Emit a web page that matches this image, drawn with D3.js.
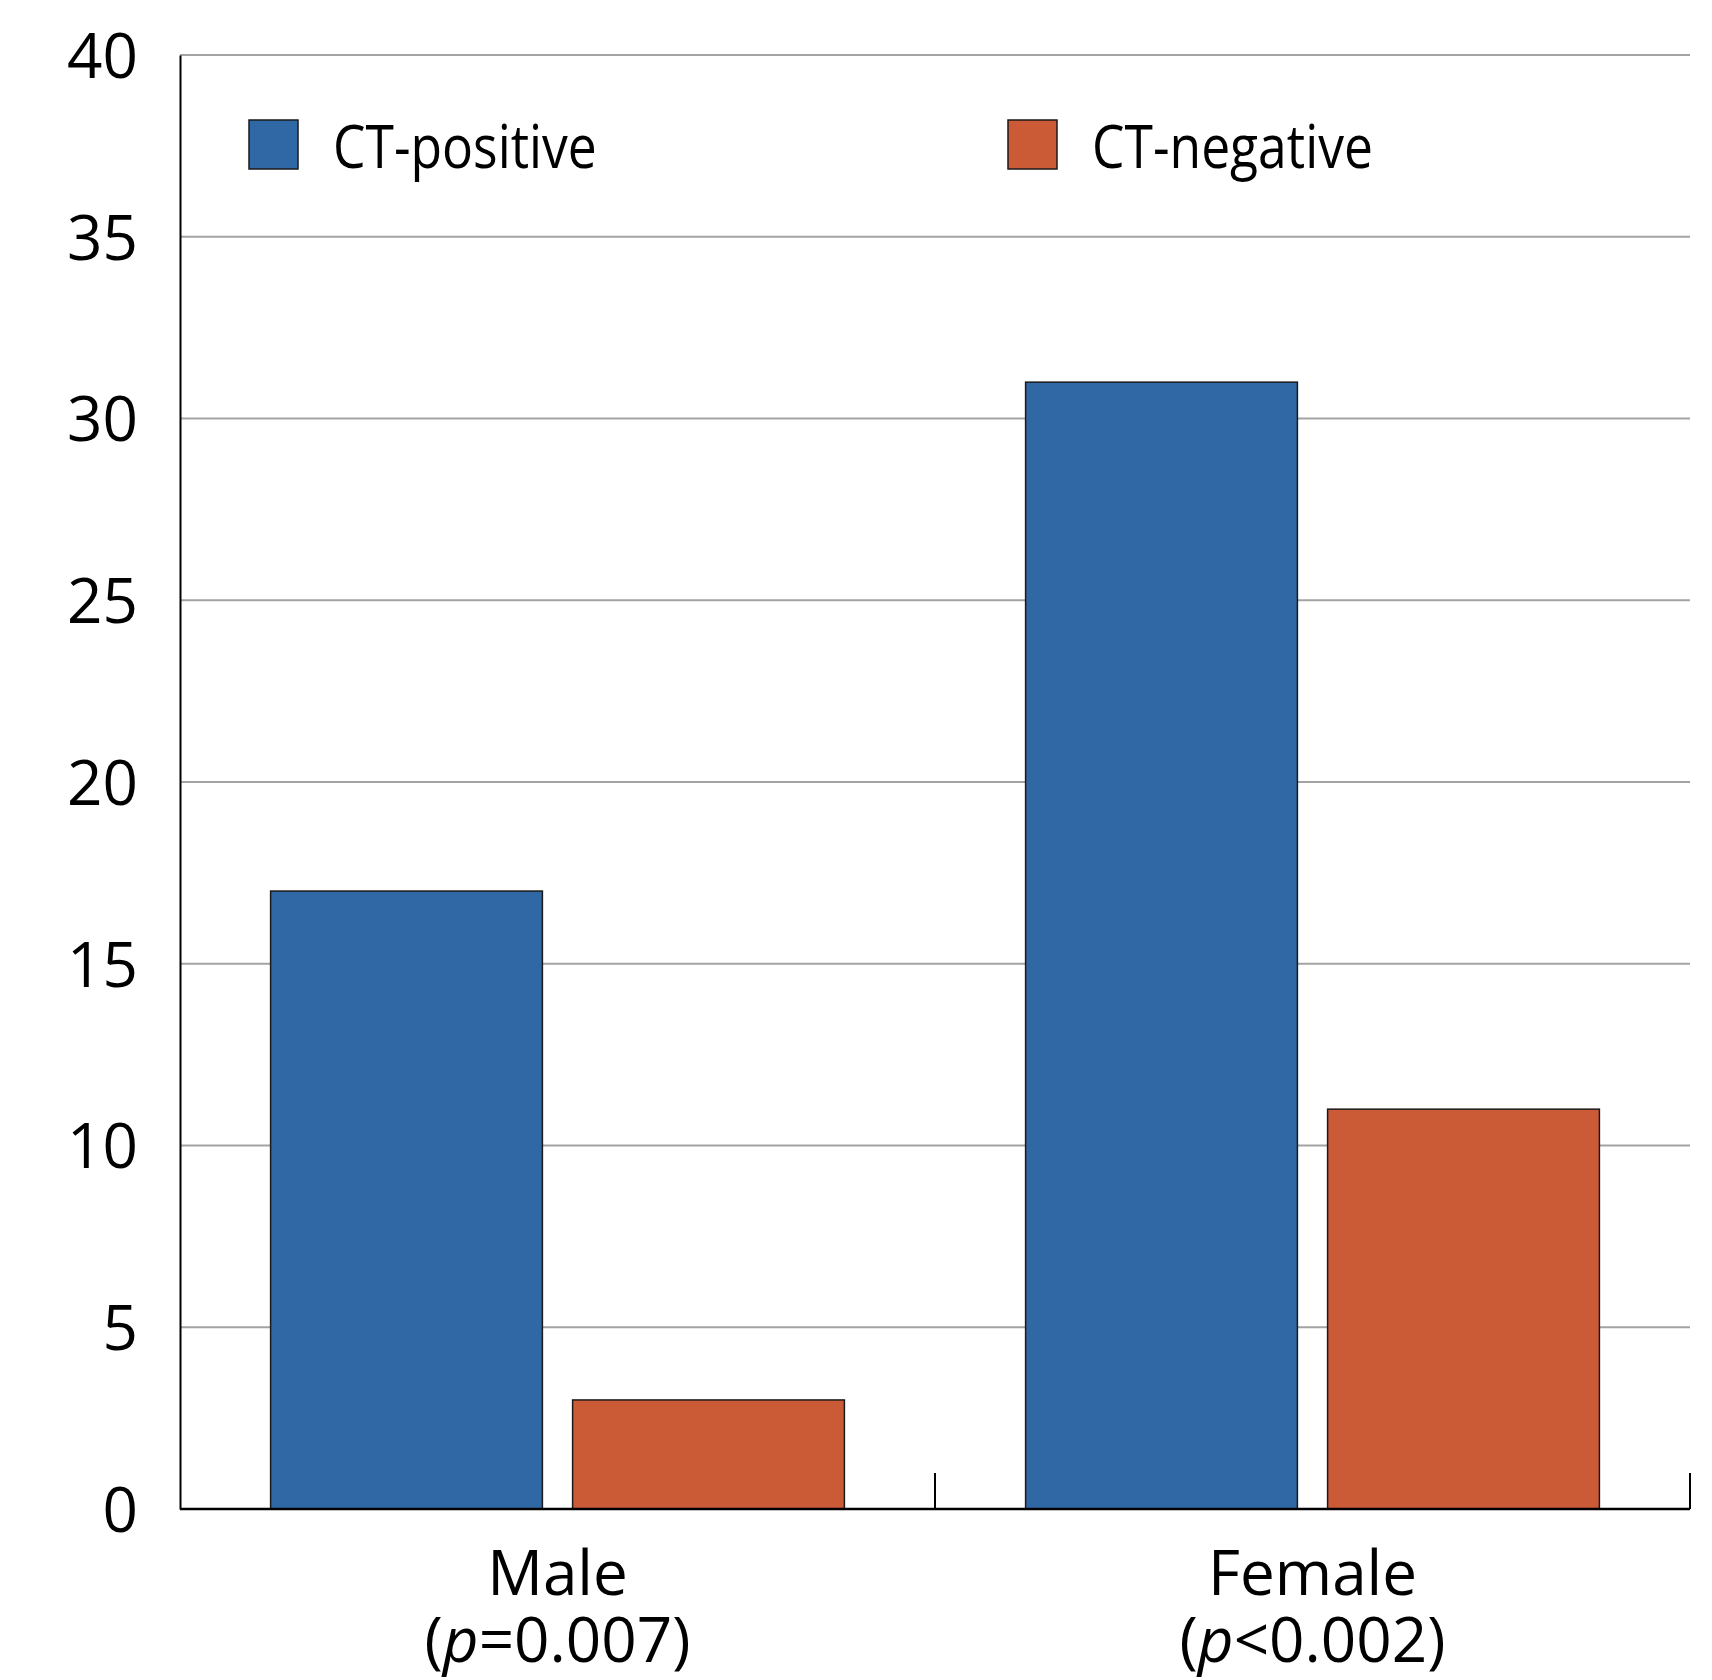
<!DOCTYPE html>
<html>
<head>
<meta charset="utf-8">
<script src="https://cdn.jsdelivr.net/npm/d3@7"></script>
<style>
  html, body { margin: 0; padding: 0; background: #fff; }
  svg text { font-family: "Open Sans", "Noto Sans", sans-serif; fill: #000; }
</style>
</head>
<body>
<svg id="chart" width="1712" height="1680"></svg>
<script>
// Chart data
const groups = ["Male", "Female"];
const groupNotes = [["=", "0.007"], ["<", "0.002"]];
const seriesNames = ["CT-positive", "CT-negative"];
const ctPositive = [17, 31];
const ctNegative = [3, 11];
const yTicks = [0, 5, 10, 15, 20, 25, 30, 35, 40];
const seriesColors = ["#3068a5", "#cb5a37"];

const margin = { left: 180, right: 22, top: 55, bottom: 171 };
const W = 1712, H = 1680;
const svg = d3.select("#chart");

const x0 = d3.scaleBand().domain(groups)
  .range([margin.left, W - margin.right]).paddingInner(0).paddingOuter(0);
const x1 = d3.scaleBand().domain(seriesNames)
  .range([0, x0.bandwidth()]).paddingInner(0.1).paddingOuter(0.3);
const y = d3.scaleLinear().domain([0, 40]).range([H - margin.bottom, margin.top]);

// Horizontal gridlines
svg.append("g")
  .selectAll("line").data(yTicks.filter(d => d > 0)).join("line")
  .attr("x1", margin.left).attr("x2", W - margin.right)
  .attr("y1", d => y(d)).attr("y2", d => y(d))
  .attr("stroke", "#a3a3a3").attr("stroke-width", 2);

// Y axis with tick labels
const yAxis = svg.append("g")
  .attr("transform", `translate(${margin.left},0)`)
  .call(d3.axisLeft(y).tickValues(yTicks).tickSize(0).tickPadding(42));
yAxis.select(".domain").attr("stroke", "#000").attr("stroke-width", 2);
yAxis.selectAll("text").attr("font-size", 62).attr("dy", "0.36em");

// Bars
const rows = groups.map((g, i) => ({ g, vals: [ctPositive[i], ctNegative[i]] }));
const gBars = svg.append("g").selectAll("g").data(rows).join("g")
  .attr("transform", d => `translate(${x0(d.g)},0)`);
gBars.selectAll("rect")
  .data(d => d.vals.map((v, j) => ({ s: seriesNames[j], v, j })))
  .join("rect")
  .attr("x", d => x1(d.s))
  .attr("width", x1.bandwidth())
  .attr("y", d => y(d.v))
  .attr("height", d => y(0) - y(d.v))
  .attr("fill", d => seriesColors[d.j])
  .attr("stroke", "#1a1a1a").attr("stroke-width", 1.5);

// X axis baseline and group separator ticks
const xAxisG = svg.append("g");
xAxisG.append("line")
  .attr("x1", margin.left).attr("x2", W - margin.right)
  .attr("y1", y(0)).attr("y2", y(0))
  .attr("stroke", "#000").attr("stroke-width", 2.5);
const boundaries = groups.map(g => x0(g) + x0.bandwidth());
xAxisG.selectAll("line.sep").data(boundaries).join("line")
  .attr("class", "sep")
  .attr("x1", d => d).attr("x2", d => d)
  .attr("y1", y(0)).attr("y2", y(0) - 36)
  .attr("stroke", "#000").attr("stroke-width", 2);

// Group labels
const labels = svg.append("g").selectAll("g").data(groups).join("g")
  .attr("transform", g => `translate(${x0(g) + x0.bandwidth() / 2},0)`);
labels.append("text")
  .attr("y", 1595).attr("text-anchor", "middle").attr("font-size", 62)
  .text(g => g);
labels.append("text")
  .attr("y", 1662).attr("text-anchor", "middle").attr("font-size", 62)
  .each(function (g, i) {
    const t = d3.select(this);
    t.append("tspan").text("(");
    t.append("tspan").attr("font-style", "italic").text("p");
    t.append("tspan").text(groupNotes[i][0] + groupNotes[i][1] + ")");
  });

// Legend
const legendX = [249, 1008];
const legend = svg.append("g").selectAll("g").data(seriesNames).join("g")
  .attr("transform", (d, i) => `translate(${legendX[i]},120)`);
legend.append("rect")
  .attr("width", 49).attr("height", 49)
  .attr("fill", (d, i) => seriesColors[i])
  .attr("stroke", "#1a1a1a").attr("stroke-width", 1.5);
legend.append("text")
  .attr("transform", "translate(84,48) scale(0.86,1)")
  .attr("font-size", 60)
  .text(d => d);
</script>
</body>
</html>
